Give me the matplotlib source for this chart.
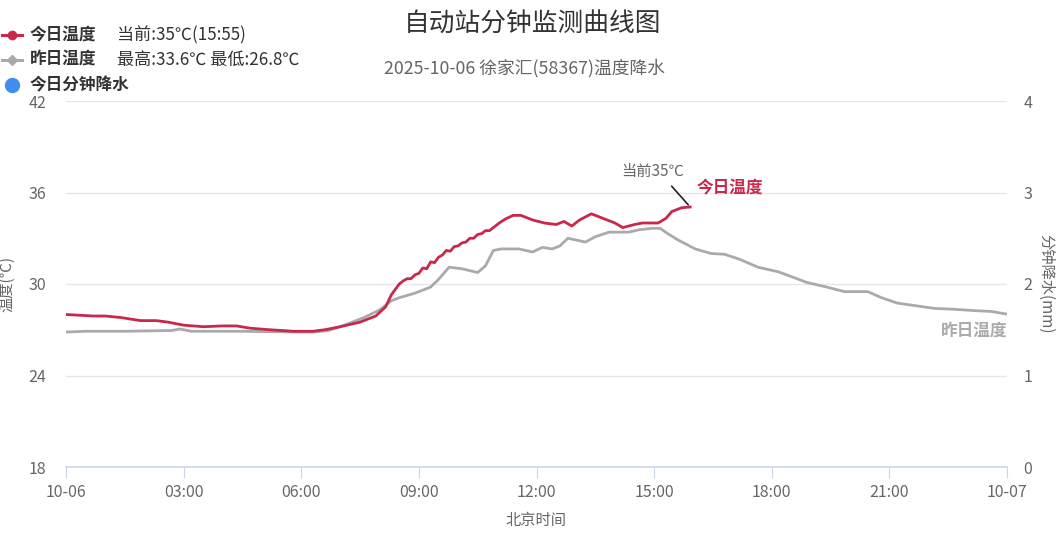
import matplotlib
matplotlib.use("Agg")
import matplotlib.pyplot as plt
from matplotlib.lines import Line2D

plt.rcParams["font.family"] = ["Noto Sans CJK SC", "DejaVu Sans"]

# ─── DATA ─────────────────────────────────────────────────────────────────────
# hours after 10-06 00:00, temperature in ℃
today_h = [0.0, 0.7, 1.0, 1.4, 1.9, 2.3, 2.6, 3.0, 3.5, 4.0, 4.35, 4.7, 5.2,
           5.8, 6.3, 6.6, 7.0, 7.5, 7.9, 8.15, 8.3, 8.5, 8.6, 8.7, 8.8, 8.9,
           9.0, 9.1, 9.2, 9.3, 9.4, 9.5, 9.6, 9.7, 9.8, 9.9, 10.0, 10.1, 10.2,
           10.3, 10.4, 10.5, 10.6, 10.7, 10.8, 10.9, 11.05, 11.2, 11.4, 11.6,
           11.9, 12.2, 12.5, 12.7, 12.9, 13.1, 13.4, 13.7, 14.0, 14.2, 14.5,
           14.7, 15.1, 15.3, 15.45, 15.7, 15.92]
today_t = [28.0, 27.9, 27.9, 27.8, 27.6, 27.6, 27.5, 27.3, 27.2, 27.25, 27.25,
           27.1, 27.0, 26.9, 26.9, 27.0, 27.2, 27.5, 27.9, 28.5, 29.3, 30.0,
           30.2, 30.35, 30.35, 30.6, 30.7, 31.05, 31.0, 31.45, 31.4, 31.75, 31.9,
           32.2, 32.15, 32.45, 32.5, 32.7, 32.75, 33.0, 33.0, 33.25, 33.3, 33.5,
           33.5, 33.7, 34.0, 34.25, 34.5, 34.5, 34.2, 34.0, 33.9, 34.1, 33.8,
           34.2, 34.6, 34.3, 34.0, 33.7, 33.9, 34.0, 34.0, 34.3, 34.75, 35.0,
           35.05]

yest_h = [0.0, 0.5, 1.5, 2.7, 2.9, 3.2, 4.5, 5.8, 6.3, 6.7, 7.2, 7.6, 8.0,
          8.3, 8.5, 8.9, 9.3, 9.5, 9.77, 10.1, 10.5, 10.7, 10.9, 11.1, 11.55,
          11.9, 12.15, 12.4, 12.6, 12.8, 13.25, 13.5, 13.85, 14.35, 14.6,
          14.95, 15.15, 15.35, 15.6, 16.05, 16.45, 16.8, 17.2, 17.65, 18.17,
          18.9, 19.4, 19.85, 20.45, 20.8, 21.2, 21.6, 22.15, 22.6, 23.2, 23.6,
          24.05]
yest_t = [26.85, 26.9, 26.9, 26.95, 27.05, 26.9, 26.9, 26.85, 26.85, 26.95,
          27.4, 27.8, 28.3, 28.9, 29.1, 29.4, 29.8, 30.3, 31.1, 31.0, 30.75,
          31.2, 32.2, 32.3, 32.3, 32.1, 32.4, 32.3, 32.5, 33.0, 32.75, 33.1,
          33.4, 33.4, 33.55, 33.65, 33.65, 33.3, 32.9, 32.3, 32.0, 31.95,
          31.6, 31.1, 30.8, 30.1, 29.8, 29.5, 29.5, 29.1, 28.75, 28.6, 28.4,
          28.35, 28.25, 28.2, 28.0]

x_ticks = [0, 3, 6, 9, 12, 15, 18, 21, 24]
x_labels = ["10-06", "03:00", "06:00", "09:00", "12:00", "15:00", "18:00",
            "21:00", "10-07"]
temp_ticks = [18, 24, 30, 36, 42]
rain_ticks = [0, 1, 2, 3, 4]

RED = "#c9284a"
GRAY = "#aaaaaa"
BLUE = "#3f8ef0"
TXT = "#666666"

# ─── PLOT ─────────────────────────────────────────────────────────────────────
fig = plt.figure(figsize=(10.6, 5.46), dpi=100)
ax = fig.add_axes([66 / 1060, 1 - 467 / 546, 941 / 1060, 366 / 546])
ax2 = ax.twinx()

ax.plot(yest_h, yest_t, color=GRAY, lw=2.0, zorder=3)
ax.plot(today_h, today_t, color=RED, lw=2.0, zorder=4)

ax.set_xlim(0, 24)
ax.set_ylim(18, 42)
ax.set_xticks(x_ticks)
ax.set_xticklabels(x_labels)
ax.set_yticks(temp_ticks)
ax.grid(True, axis="y", color="#e6e6e6", lw=1)
ax.set_axisbelow(True)

for s in ["top", "left", "right"]:
    ax.spines[s].set_visible(False)
    ax2.spines[s].set_visible(False)
ax2.spines["bottom"].set_visible(False)
ax.spines["bottom"].set_color("#ccd6eb")
ax.spines["bottom"].set_linewidth(1.2)

ax.tick_params(axis="x", colors="#ccd6eb", labelcolor=TXT, length=8,
               labelsize=11.5, pad=4)
ax.tick_params(axis="y", length=0, labelcolor=TXT, labelsize=11.5, pad=14)

ax2.set_ylim(0, 4)
ax2.set_yticks(rain_ticks)
ax2.tick_params(axis="y", length=0, labelcolor=TXT, labelsize=11.5, pad=12)

ax.set_xlabel("北京时间", color=TXT, fontsize=11, labelpad=8)
ax.set_ylabel("温度(℃)", color=TXT, fontsize=11, labelpad=10)
ax2.set_ylabel("分钟降水(mm)", color=TXT, fontsize=11, rotation=270,
               labelpad=16)

# annotations
ax.annotate("", xy=(today_h[-1], today_t[-1]), xytext=(15.4, 36.55),
            arrowprops=dict(arrowstyle="-", color="#222222", lw=1.2))
ax.text(14.95, 37.4, "当前35℃", color=TXT, fontsize=11, ha="center",
        va="center")
ax.text(16.08, 36.25, "今日温度", color=RED, fontsize=12, ha="left",
        va="center", fontweight="bold")
ax.text(24.0, 26.9, "昨日温度", color=GRAY, fontsize=12, ha="right",
        va="center", fontweight="bold")

# titles
fig.text(533 / 1060, 1 - 25 / 546, "自动站分钟监测曲线图", ha="center",
         va="center", fontsize=18.5, color="#333333")
fig.text(525 / 1060, 1 - 68 / 546, "2025-10-06 徐家汇(58367)温度降水",
         ha="center", va="center", fontsize=12.8, color=TXT)

# legend drawn by hand at top-left
leg = [(35, RED, "o", "今日温度", "当前:35℃(15:55)"),
       (60, GRAY, "D", "昨日温度", "最高:33.6℃ 最低:26.8℃"),
       (85, BLUE, None, "今日分钟降水", "")]
for y, c, m, name, extra in leg:
    yf = 1 - y / 546
    if m is not None:
        fig.add_artist(Line2D([2 / 1060, 22 / 1060], [yf, yf], color=c,
                              lw=2.2, transform=fig.transFigure))
        fig.add_artist(Line2D([12 / 1060], [yf], marker=m, color=c,
                              markersize=6 if m == "o" else 5,
                              transform=fig.transFigure))
    else:
        fig.add_artist(Line2D([12 / 1060], [yf], marker="o", color=c,
                              markersize=10, transform=fig.transFigure))
    fig.text(30 / 1060, yf, name, ha="left", va="center", fontsize=12,
             color="#333333", fontweight="bold")
    if extra:
        fig.text(117 / 1060, yf, extra, ha="left", va="center", fontsize=12.3,
                 color="#333333")

fig.savefig("out.png", dpi=100)
